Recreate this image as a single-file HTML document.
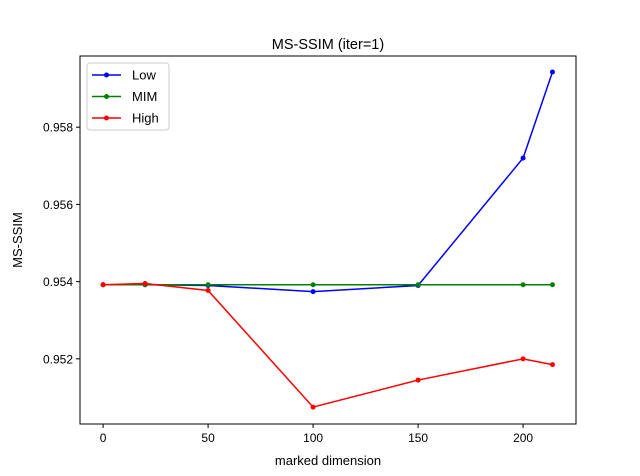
<!DOCTYPE html>
<html><head><meta charset="utf-8"><style>body{margin:0;background:#fff}svg{display:block;font-family:"Liberation Sans","DejaVu Sans",sans-serif}</style></head>
<body>
<svg id="chart" width="640" height="476"></svg>
<script>
const xValues=[0,20,50,100,150,200,214];
const lowValues=[0.95392,0.95392,0.95390,0.95374,0.95390,0.95720,0.95943];
const mimValues=[0.95392,0.95392,0.95392,0.95392,0.95392,0.95392,0.95392];
const highValues=[0.95392,0.95395,0.95377,0.95075,0.95145,0.95200,0.95185];
const xTicks=[0,50,100,150,200];
const yTicks=[0.952,0.954,0.956,0.958];
const seriesNames=["Low","MIM","High"];
const L=80,R=576,T=56,B=424;
const xMin=-11,xMax=225.2,yMin=0.950312,yMax=0.959844;
const sx=v=>L+(v-xMin)/(xMax-xMin)*(R-L);
const sy=v=>B-(v-yMin)/(yMax-yMin)*(B-T);
const svg=document.getElementById('chart');
const NS='http://www.w3.org/2000/svg';
function mk(t,a,p){const e=document.createElementNS(NS,t);for(const k in a)e.setAttribute(k,a[k]);(p||svg).appendChild(e);return e;}
let e;
e=mk('text',{x:328,y:49,'font-size':14.5,'text-anchor':'middle'});e.textContent='MS-SSIM (iter=1)';


e=mk('text',{x:328,y:465,'font-size':13,'text-anchor':'middle'});e.textContent='marked dimension';


e=mk('text',{x:22,y:240,'font-size':13,'text-anchor':'middle',transform:'rotate(-90 22 240)'});e.textContent='MS-SSIM';


xTicks.forEach(v=>{const x=sx(v);mk('line',{x1:x,x2:x,y1:B,y2:B+4,stroke:'#000'});
e=mk('text',{x:x,y:B+18,'font-size':12,'text-anchor':'middle'});e.textContent=v;

});
yTicks.forEach(v=>{const y=sy(v);mk('line',{x1:L-4,x2:L,y1:y,y2:y,stroke:'#000'});
e=mk('text',{x:L-7,y:y+4.5,'font-size':12,'text-anchor':'end'});e.textContent=v.toFixed(3);

});
const colors=['#0000ff','#008000','#ff0000'];
[lowValues,mimValues,highValues].forEach((vals,i)=>{
const g=mk('g',{});


mk('polyline',{points:vals.map((v,j)=>sx(xValues[j])+','+sy(v)).join(' '),fill:'none',stroke:colors[i],'stroke-width':1.5},g);
vals.forEach((v,j)=>{const c=mk('circle',{cx:sx(xValues[j]),cy:sy(v),r:2.5,fill:colors[i]},g);

});
});
e=mk('rect',{x:L,y:T,width:R-L,height:B-T,fill:'none',stroke:'#000','stroke-width':1});


const lg=mk('g',{});


mk('rect',{x:87,y:63,width:82,height:67,rx:3,fill:'#fff','fill-opacity':0.8,stroke:'#ccc'},lg);
seriesNames.forEach((n,i)=>{const y=75+i*21.5;
const eg=mk('g',{},lg);


mk('line',{x1:92,x2:121,y1:y,y2:y,stroke:colors[i],'stroke-width':1.5},eg);
mk('circle',{cx:106.5,cy:y,r:2.5,fill:colors[i]},eg);
const t=mk('text',{x:132,y:y+4.5,'font-size':13},eg);t.textContent=n;});
</script>
</body></html>
